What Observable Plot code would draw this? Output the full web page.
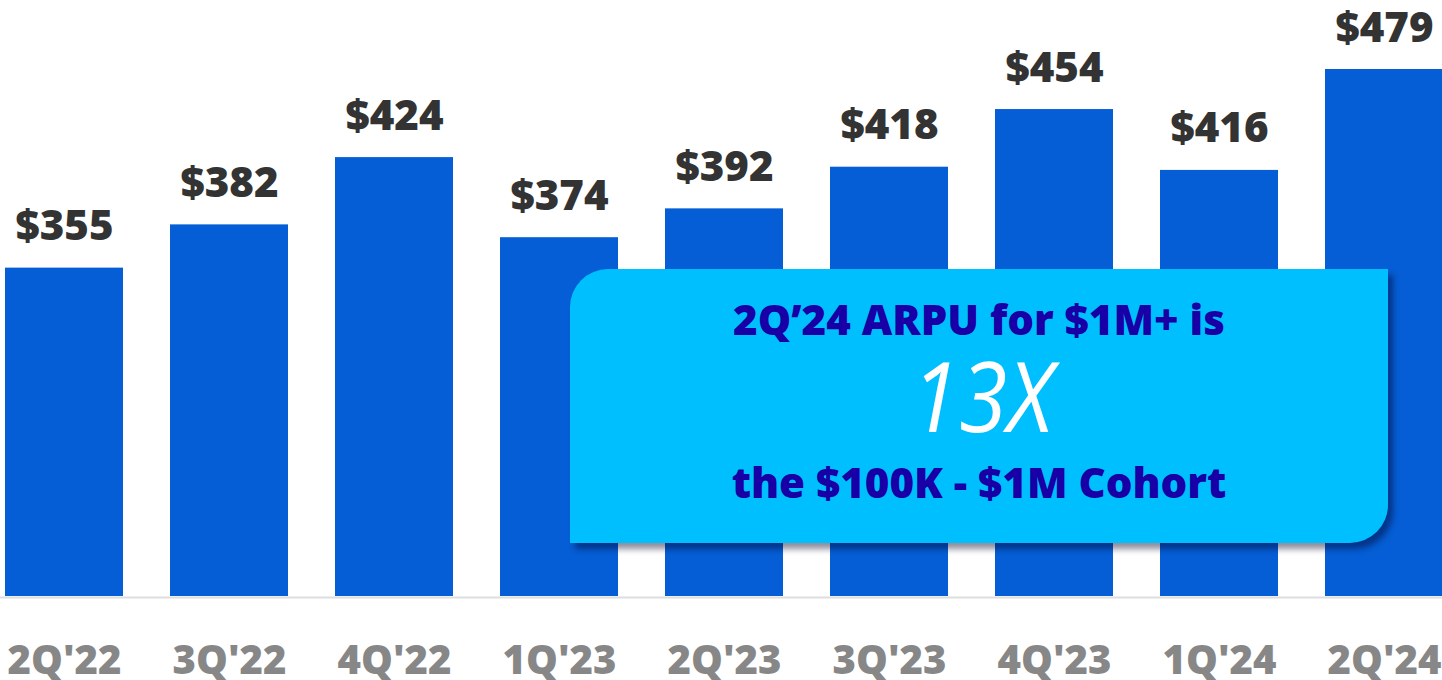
<!DOCTYPE html>
<html>
<head>
<meta charset="utf-8">
<script src="https://cdn.jsdelivr.net/npm/d3@7"></script>
<script src="https://cdn.jsdelivr.net/npm/@observablehq/plot@0.6"></script>
<style>
  html, body { margin: 0; padding: 0; background: #fff; }
  #wrap { position: relative; width: 1442px; height: 680px; overflow: hidden; }
  #callout {
    position: absolute; left: 570px; top: 269px; width: 818px; height: 274px;
    background: #00bfff; border-radius: 38px 0 38px 0;
    box-shadow: 5px 6px 6px rgba(0,0,40,0.45);
  }
  #callout svg { position: absolute; left: 0; top: 0; }
</style>
</head>
<body>
<div id="wrap">
  <div id="chart"></div>
  <div id="callout"></div>
</div>
<script>
const quarters = ["2Q'22", "3Q'22", "4Q'22", "1Q'23", "2Q'23", "3Q'23", "4Q'23", "1Q'24", "2Q'24"];
const arpu = [355, 382, 424, 374, 392, 418, 454, 416, 479];
const calloutLines = ["2Q’24 ARPU for $1M+ is", "13X", "the $100K - $1M Cohort"];

const data = quarters.map((q, i) => ({quarter: q, value: arpu[i]}));
const font = "'Open Sans', sans-serif";

const chart = Plot.plot({
  width: 1442,
  height: 680,
  marginTop: 0, marginBottom: 0, marginLeft: 0, marginRight: 0,
  style: {fontFamily: font, background: "transparent"},
  x: {domain: quarters, range: [5, 1443], paddingInner: 0.285, paddingOuter: 0, axis: null},
  y: {domain: [150, 479], range: [596, 69], axis: null},
  marks: [
    Plot.barY(data, {x: "quarter", y1: 150, y2: "value", fill: "#055ed6"}),
    Plot.ruleY([150], {stroke: "#dedede", strokeWidth: 2, dy: 1}),
    Plot.text(data, {
      x: "quarter", y: "value", text: d => "$" + d.value,
      dy: -28, lineAnchor: "bottom", fontSize: 42, fontWeight: 800, fill: "#333333"
    }),
    Plot.text(quarters, {
      x: d => d, y: 150, text: d => d,
      dy: 77, lineAnchor: "bottom", fontSize: 40, fontWeight: 800, fill: "#878787"
    })
  ]
});
document.getElementById("chart").appendChild(chart);

// callout text
const co = d3.select("#callout").append("svg").attr("width", 818).attr("height", 274);
co.append("text").attr("x", 409).attr("y", 66).attr("text-anchor", "middle")
  .attr("font-family", font).attr("font-weight", 800).attr("font-size", 42)
  .attr("fill", "#1800a6").text(calloutLines[0]);
co.append("text").attr("x", 0).attr("y", 0).attr("text-anchor", "middle")
  .attr("transform", "translate(412,163) scale(0.9,1)")
  .attr("font-family", font).attr("font-style", "italic").attr("font-weight", 500).attr("font-size", 97)
  .attr("fill", "#ffffff").text(calloutLines[1]);
co.append("text").attr("x", 409).attr("y", 229).attr("text-anchor", "middle")
  .attr("font-family", font).attr("font-weight", 800).attr("font-size", 42)
  .attr("fill", "#1800a6").text(calloutLines[2]);
</script>
</body>
</html>
